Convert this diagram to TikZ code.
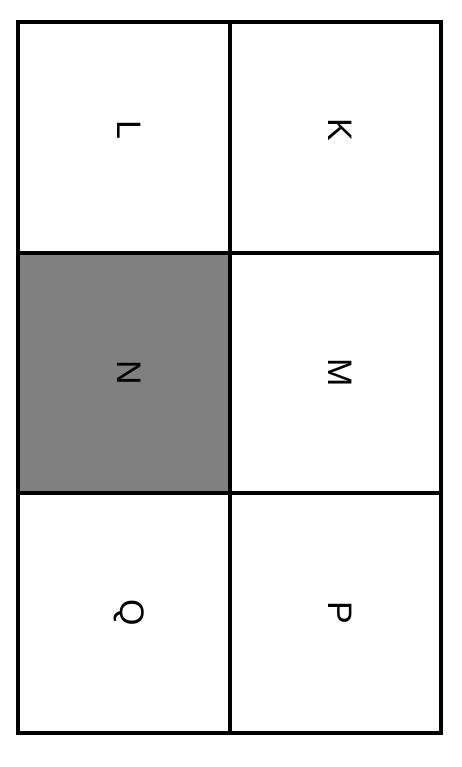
\documentclass[tikz,border=0pt]{standalone}
\usepackage{fontspec}
\setmainfont{Liberation Sans}
\usepackage{tikz}

\begin{document}
\begin{tikzpicture}[x=1pt,y=-1pt,
    grid/.style={line width=3.5pt,line join=miter},
    letter/.style={rotate=-90,inner sep=0pt,font=\fontsize{34}{34}\selectfont}]
        \useasboundingbox (0,0) rectangle (461,767);
        % Shaded cell N
        \fill[gray] (18,253) rectangle (230,493);
        % Frame and dividers
        \draw[grid] (18,22) rectangle (441,733);
        \draw[grid] (230,22) -- (230,733);
        \draw[grid] (18,253) -- (441,253);
        \draw[grid] (18,493) -- (441,493);
        % Cell letters
        \node[letter] (L) at (129,130) {L};
        \node[letter] (K) at (340,130) {K};
        \node[letter] (N) at (129,373) {N};
        \node[letter] (M) at (340,373) {M};
        \node[letter] (Q) at (129,613) {Q};
        \node[letter] (P) at (340,613) {P};
      \end{tikzpicture}
\end{document}
